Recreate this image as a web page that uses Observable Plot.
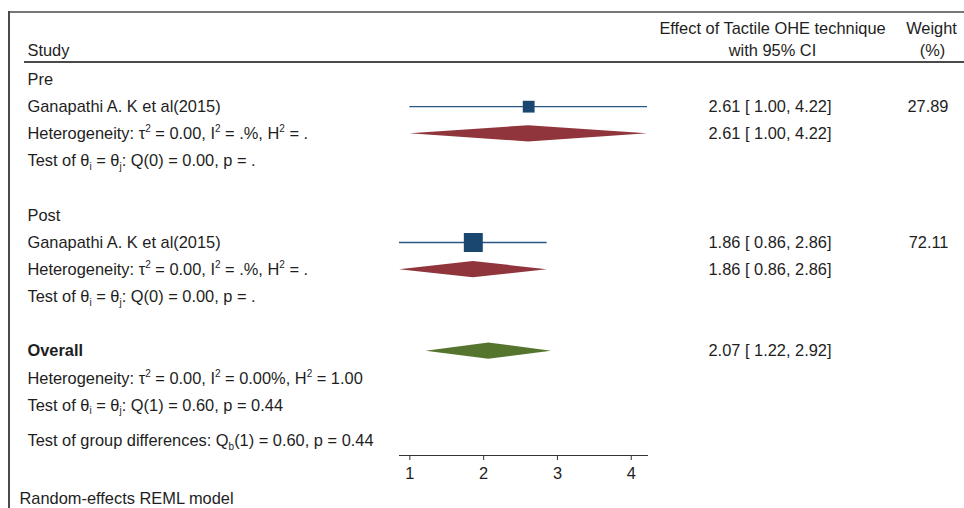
<!DOCTYPE html>
<html>
<head>
<meta charset="utf-8">
<script src="https://cdn.jsdelivr.net/npm/d3@7"></script>
<script src="https://cdn.jsdelivr.net/npm/@observablehq/plot@0.6"></script>
<style>
  body { margin: 0; background: #fff; }
  #wrap { position: relative; width: 964px; height: 508px; font-family: "Liberation Sans", Arial, sans-serif; }
  #wrap svg { position: absolute; left: 0; top: 0; }
  .bline { position: absolute; background: #4a4a4a; }
</style>
</head>
<body>
<div id="wrap">
  <div class="bline" style="left:8px; top:11px; width:956px; height:1.5px; background:#777;"></div>
  <div class="bline" style="left:8px; top:11px; width:1.5px; height:497px;"></div>
  <div class="bline" style="left:24px; top:61px; width:940px; height:1.5px;"></div>
</div>
<script>
// ---- data ----
const groupNames = ["Pre", "Post"];
const groupRows = [0, 5];
const studyNames = ["Ganapathi A. K et al(2015)", "Ganapathi A. K et al(2015)"];
const studyRows = [1, 6];
const studyEst = [2.61, 1.86];
const studyLo = [1.00, 0.86];
const studyHi = [4.22, 2.86];
const studyWeight = [27.89, 72.11];
const groupEst = [2.61, 1.86];
const groupLo = [1.00, 0.86];
const groupHi = [4.22, 2.86];
const groupSumRows = [2, 7];
const groupHet = ["Heterogeneity: τ^{2} = 0.00, I^{2} = .%, H^{2} = .", "Heterogeneity: τ^{2} = 0.00, I^{2} = .%, H^{2} = ."];
const groupTest = ["Test of θ_{i} = θ_{j}: Q(0) = 0.00, p = .", "Test of θ_{i} = θ_{j}: Q(0) = 0.00, p = ."];
const groupTestRows = [3, 8];
const overallEst = 2.07, overallLo = 1.22, overallHi = 2.92;
const overallRow = 10;
const overallHet = "Heterogeneity: τ^{2} = 0.00, I^{2} = 0.00%, H^{2} = 1.00";
const overallTest = "Test of θ_{i} = θ_{j}: Q(1) = 0.60, p = 0.44";
const groupDiffText = "Test of group differences: Q_{b}(1) = 0.60, p = 0.44";
const modelNote = "Random-effects REML model";
const xTicks = [1, 2, 3, 4];
const xDomain = [0.86, 4.22];

// ---- derived tables ----
const fmt = v => v.toFixed(2);
const ciText = (e, l, h) => `${fmt(e)} [ ${fmt(l)}, ${fmt(h)}]`;
const studies = studyNames.map((n, i) => ({name: n, row: studyRows[i], est: studyEst[i], lo: studyLo[i], hi: studyHi[i], w: studyWeight[i]}));
const leftText = [
  ...groupNames.map((g, i) => ({row: groupRows[i], text: g})),
  ...studies.map(s => ({row: s.row, text: s.name})),
  ...groupHet.map((t, i) => ({row: groupSumRows[i], text: t})),
  ...groupTest.map((t, i) => ({row: groupTestRows[i], text: t})),
  {row: overallRow + 1, text: overallHet},
  {row: overallRow + 2, text: overallTest},
  {row: 13.3, text: groupDiffText}
];
const summaries = [
  ...groupEst.map((e, i) => ({id: "g" + i, row: groupSumRows[i], est: e, lo: groupLo[i], hi: groupHi[i], color: "#90353b"})),
  {id: "overall", row: overallRow, est: overallEst, lo: overallLo, hi: overallHi, color: "#55752f"}
];
const hh = 0.3;
const diamondPts = summaries.flatMap(d => [
  {id: d.id, color: d.color, y: d.row - hh, x1: d.est, x2: d.est},
  {id: d.id, color: d.color, y: d.row, x1: d.lo, x2: d.hi},
  {id: d.id, color: d.color, y: d.row + hh, x1: d.est, x2: d.est}
]);
const ciRows = [
  ...studies.map(s => ({row: s.row, text: ciText(s.est, s.lo, s.hi)})),
  ...summaries.map(d => ({row: d.row, text: ciText(d.est, d.lo, d.hi)}))
];
const weightRows = studies.map(s => ({row: s.row, text: fmt(s.w)}));

const ink = "#1e1e1e";
const fs = 16.4;
const plot = Plot.plot({
  width: 964,
  height: 508,
  marginLeft: 399,
  marginRight: 317,
  marginTop: 20,
  marginBottom: 53,
  style: {fontFamily: '"Liberation Sans", Arial, sans-serif', fontSize: fs + "px", color: ink, background: "transparent"},
  x: {domain: xDomain},
  y: {domain: [0, 12], range: [79, 405], axis: null},
  r: {type: "sqrt", domain: [0, 72.11], range: [0, 10.7]},
  marks: [
    Plot.frame({anchor: "bottom", stroke: "#333"}),
    Plot.axisX({ticks: xTicks, tickFormat: d3.format("d"), tickSize: 5, tickPadding: 7, fontSize: fs, label: null, stroke: "#333"}),
    Plot.ruleY(studies, {y: "row", x1: "lo", x2: "hi", stroke: "#2a5683", strokeWidth: 1.3}),
    Plot.dot(studies, {x: "est", y: "row", r: "w", symbol: "square", fill: "#1a476f"}),
    Plot.areaX(diamondPts, {y: "y", x1: "x1", x2: "x2", z: "id", fill: d => d.color, curve: "linear"}),
    // header
    Plot.text(["Study"], {y: -1.07, frameAnchor: "left", dx: -372, textAnchor: "start", fill: ink, fontSize: fs}),
    Plot.text(["Effect of Tactile OHE technique"], {y: -1.88, frameAnchor: "right", dx: 125, textAnchor: "middle", fill: ink, fontSize: fs}),
    Plot.text(["with 95% CI"], {y: -1.07, frameAnchor: "right", dx: 125, textAnchor: "middle", fill: ink, fontSize: fs}),
    Plot.text(["Weight"], {y: -1.88, frameAnchor: "right", dx: 284, textAnchor: "middle", fill: ink, fontSize: fs}),
    Plot.text(["(%)"], {y: -1.07, frameAnchor: "right", dx: 285, textAnchor: "middle", fill: ink, fontSize: fs}),
    // left column
    Plot.text(leftText, {y: "row", text: "text", frameAnchor: "left", dx: -372, textAnchor: "start", fill: ink, fontSize: fs}),
    Plot.text(["Overall"], {y: overallRow, frameAnchor: "left", dx: -372, textAnchor: "start", fill: ink, fontSize: fs, fontWeight: "bold"}),
    Plot.text([modelNote], {y: 15.43, frameAnchor: "left", dx: -380, textAnchor: "start", fill: ink, fontSize: fs}),
    // right columns
    Plot.text(ciRows, {y: "row", text: "text", frameAnchor: "right", dx: 61, textAnchor: "start", fill: ink, fontSize: fs}),
    Plot.text(weightRows, {y: "row", text: "text", frameAnchor: "right", dx: 301, textAnchor: "end", fill: ink, fontSize: fs})
  ]
});

// sub/superscript markup -> tspans
d3.select(plot).selectAll("text").each(function () {
  const t = this.textContent;
  if (!/[\^_]\{/.test(t)) return;
  const parts = t.split(/(\^\{[^}]*\}|_\{[^}]*\})/).filter(p => p.length);
  const el = d3.select(this);
  el.text(null);
  let shift = 0;
  for (const p of parts) {
    const m = p.match(/^([\^_])\{([^}]*)\}$/);
    if (m) {
      const target = m[1] === "^" ? -7 : 3.5;
      el.append("tspan").attr("dy", target - shift).attr("font-size", "10px").text(m[2]);
      shift = target;
    } else {
      el.append("tspan").attr("dy", -shift).text(p);
      shift = 0;
    }
  }
});

document.getElementById("wrap").appendChild(plot);
</script>
</body>
</html>
